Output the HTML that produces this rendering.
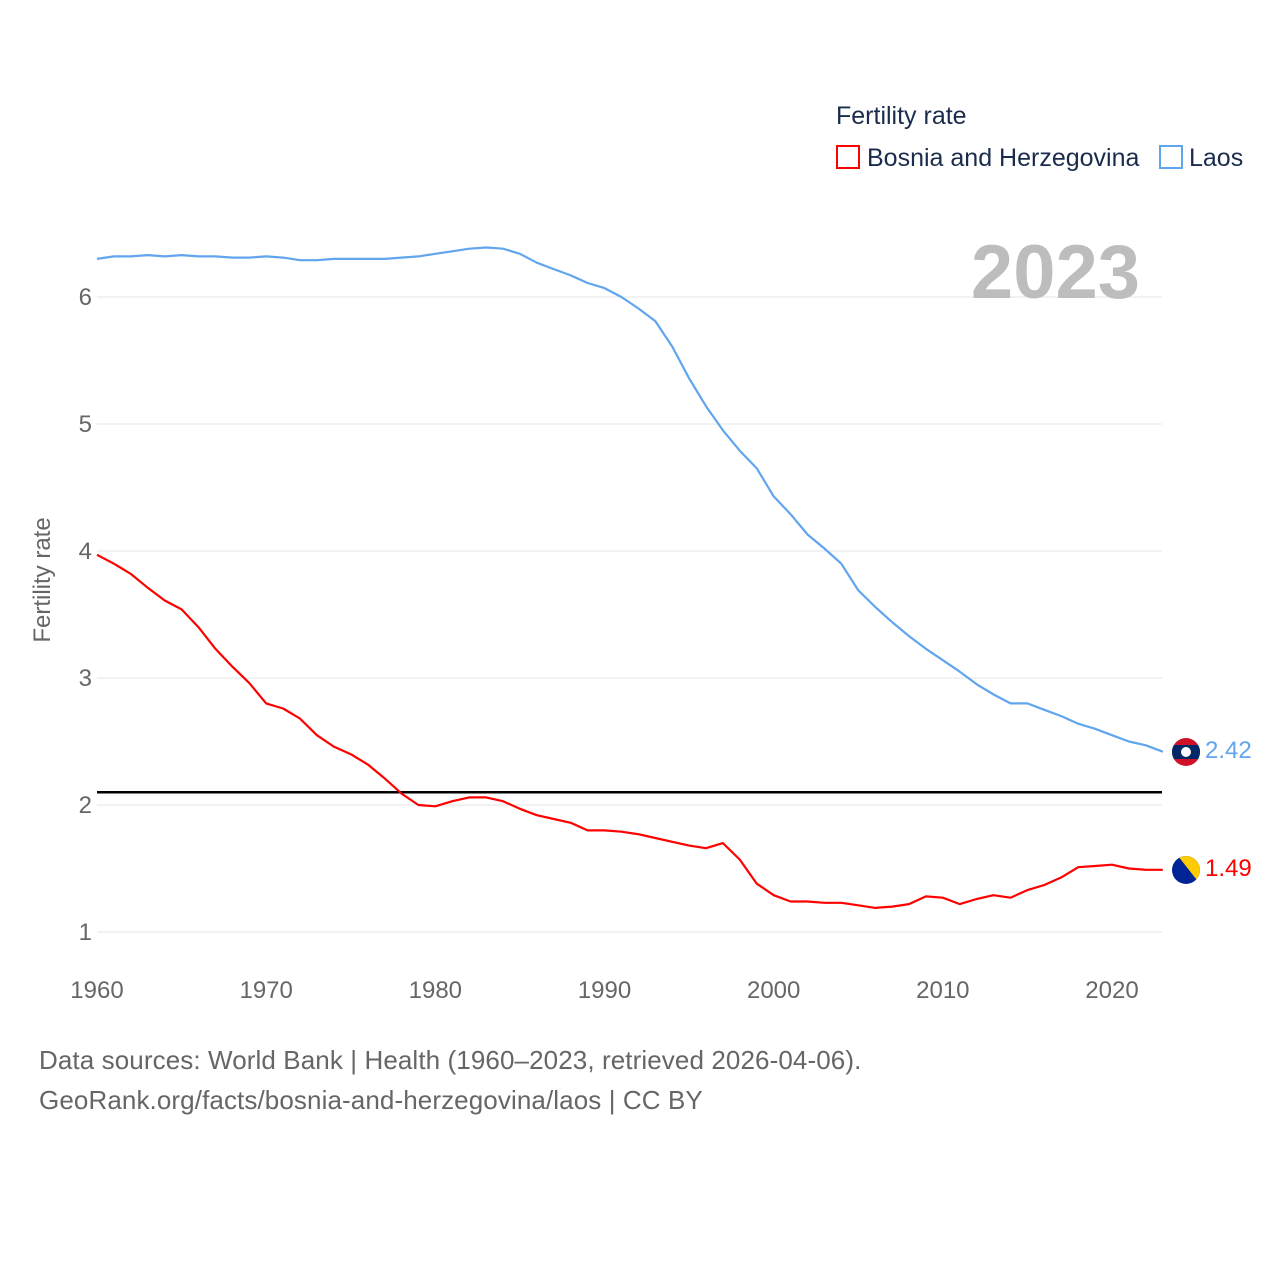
<!DOCTYPE html>
<html><head><meta charset="utf-8"><style>
body{margin:0;background:#fff;font-family:"Liberation Sans",sans-serif}
svg{display:block}
</style></head><body>
<svg id="chart" width="1280" height="1280" viewBox="0 0 1280 1280" xmlns="http://www.w3.org/2000/svg">
<defs>
<clipPath id="c1"><circle cx="1186" cy="752" r="14"/></clipPath>
<clipPath id="c2"><circle cx="1186" cy="870" r="14"/></clipPath>
</defs>
<g id="grid"></g>
<g id="axes"></g>
<g id="lines"></g>
<text x="1140" y="298" text-anchor="end" font-size="76" font-weight="bold" fill="#bdbdbd">2023</text>
<text transform="translate(50,580) rotate(-90)" text-anchor="middle" font-size="24" fill="#666">Fertility rate</text>
<g>
<text x="836" y="124" font-size="25" fill="#1a2b4c">Fertility rate</text>
<g><rect x="837" y="146" width="22" height="22" fill="none" stroke="#f00" stroke-width="2"/><text x="867" y="166" font-size="25" fill="#1a2b4c">Bosnia and Herzegovina</text></g>
<g><rect x="1160" y="146" width="22" height="22" fill="none" stroke="#60a5ee" stroke-width="2"/><text x="1189" y="166" font-size="25" fill="#1a2b4c">Laos</text></g>
</g>
<g clip-path="url(#c1)">
<rect x="1172" y="738" width="28" height="28" fill="#ce1126"/><rect x="1172" y="745" width="28" height="14" fill="#002868"/><circle cx="1186" cy="752" r="5" fill="#fff"/>
</g>
<g clip-path="url(#c2)">
<rect x="1172" y="856" width="28" height="28" fill="#002395"/><polygon points="1178,856 1200,856 1200,884" fill="#fecb00"/>
</g>
<text x="1205" y="758" font-size="24" fill="#60a5ee">2.42</text>
<text x="1205" y="876" font-size="24" fill="#f00">1.49</text>
<g font-size="26" fill="#666" letter-spacing="0.1">
<text x="39" y="1069">Data sources: World Bank | Health (1960–2023, retrieved 2026-04-06).</text>
<text x="39" y="1109">GeoRank.org/facts/bosnia-and-herzegovina/laos | CC BY</text>
</g>
</svg>
<script>
const years = [];
for (let y = 1960; y <= 2023; y++) years.push(y);
const laos = [6.30,6.32,6.32,6.33,6.32,6.33,6.32,6.32,6.31,6.31,6.32,6.31,6.29,6.29,6.30,6.30,6.30,6.30,6.31,6.32,6.34,6.36,6.38,6.39,6.38,6.34,6.27,6.22,6.17,6.11,6.07,6.00,5.91,5.81,5.61,5.36,5.14,4.95,4.79,4.65,4.43,4.29,4.13,4.02,3.90,3.69,3.56,3.44,3.33,3.23,3.14,3.05,2.95,2.87,2.80,2.80,2.75,2.70,2.64,2.60,2.55,2.50,2.47,2.42];
const bosnia = [3.97,3.90,3.82,3.71,3.61,3.54,3.40,3.23,3.09,2.96,2.80,2.76,2.68,2.55,2.46,2.40,2.32,2.21,2.09,2.00,1.99,2.03,2.06,2.06,2.03,1.97,1.92,1.89,1.86,1.80,1.80,1.79,1.77,1.74,1.71,1.68,1.66,1.70,1.57,1.38,1.29,1.24,1.24,1.23,1.23,1.21,1.19,1.20,1.22,1.28,1.27,1.22,1.26,1.29,1.27,1.33,1.37,1.43,1.51,1.52,1.53,1.50,1.49,1.49];
const yTicks = [1,2,3,4,5,6];
const xTicks = [1960,1970,1980,1990,2000,2010,2020];
const replacementRate = 2.1;
const NS = "http://www.w3.org/2000/svg";
const xs = yr => 97 + (yr - 1960) * (1015 / 60);
const ys = v => 932 - (v - 1) * 127;
function mk(tag, attrs, parent) {
  const e = document.createElementNS(NS, tag);
  for (const k in attrs) e.setAttribute(k, attrs[k]);
  parent.appendChild(e);
  return e;
}
const grid = document.getElementById('grid'), axes = document.getElementById('axes'), lines = document.getElementById('lines');
yTicks.forEach(t => {
  const l = mk('line', {x1: 97, x2: 1162, y1: ys(t), y2: ys(t), stroke: '#e6e6e6', 'stroke-width': 1}, grid);
  
  
  const tx = mk('text', {x: 92, y: ys(t) + 8, 'text-anchor': 'end', 'font-size': 24, fill: '#666'}, axes);
  tx.textContent = t;
  
  
});
xTicks.forEach(t => {
  const tx = mk('text', {x: xs(t), y: 998, 'text-anchor': 'middle', 'font-size': 24, fill: '#666'}, axes);
  tx.textContent = t;
  
  
});
const rl = mk('line', {x1: 97, x2: 1162, y1: ys(replacementRate), y2: ys(replacementRate), stroke: '#000', 'stroke-width': 2.5}, lines);


function path(vals, color, name) {
  const d = vals.map((v, i) => (i ? 'L' : 'M') + xs(years[i]).toFixed(1) + ',' + ys(v).toFixed(1)).join('');
  const p = mk('path', {d: d, fill: 'none', stroke: color, 'stroke-width': 2.2, 'stroke-linejoin': 'round'}, lines);
  
  
}
path(laos, '#60a5ee', 'laos-line');
path(bosnia, '#ff0000', 'bosnia-line');
</script>
</body></html>
